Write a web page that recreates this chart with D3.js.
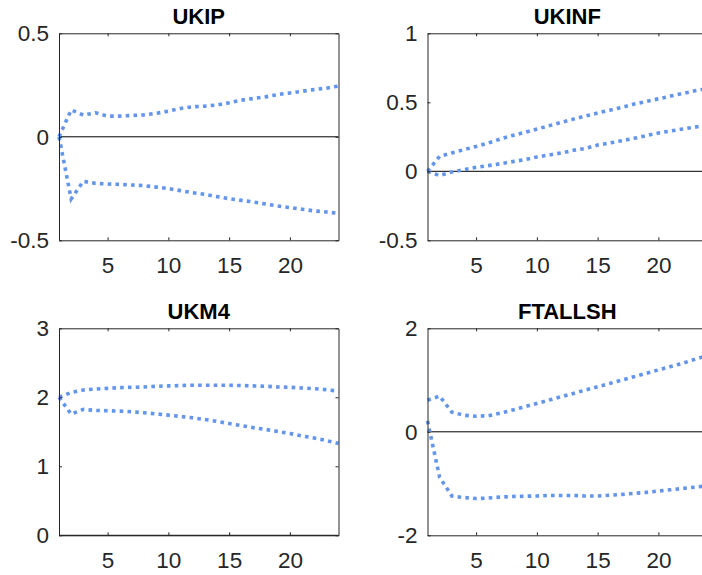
<!DOCTYPE html>
<html>
<head>
<meta charset="utf-8">
<script src="https://cdn.jsdelivr.net/npm/d3@7"></script>
<style>
  body { margin: 0; background: #fff; }
  svg { font-family: Arial, "Liberation Sans", sans-serif; display: block; }
</style>
</head>
<body>
<svg id="canvas" width="702" height="575"></svg>
<script>
// horizons 1..24
let steps = [1, 2, 3, 4, 5, 6, 7, 8, 9, 10, 11, 12, 13, 14, 15, 16, 17, 18, 19, 20, 21, 22, 23, 24]
let xTicks = [5, 10, 15, 20]

let titles = ["UKIP", "UKINF", "UKM4", "FTALLSH"]
let yDomains = [[-0.5, 0.5], [-0.5, 1], [0, 3], [-2, 2]]
let yTicks = [[-0.5, 0, 0.5], [-0.5, 0, 0.5, 1], [0, 1, 2, 3], [-2, 0, 2]]

let ukipUpper = [0, 0.13, 0.105, 0.116, 0.10, 0.10, 0.103, 0.106, 0.113, 0.124, 0.137, 0.145,
                 0.148, 0.154, 0.164, 0.177, 0.185, 0.193, 0.204, 0.212, 0.22, 0.228, 0.235, 0.245]
let ukipLower = [0, -0.30, -0.215, -0.225, -0.228, -0.23, -0.233, -0.236, -0.243, -0.25, -0.26, -0.27,
                 -0.278, -0.289, -0.299, -0.307, -0.315, -0.325, -0.334, -0.342, -0.35, -0.358, -0.363, -0.37]

let ukinfUpper = [0, 0.108, 0.133, 0.157, 0.18, 0.205, 0.234, 0.26, 0.282, 0.306, 0.33, 0.354,
                  0.378, 0.40, 0.422, 0.443, 0.463, 0.487, 0.506, 0.525, 0.545, 0.564, 0.583, 0.60]
let ukinfLower = [0, -0.031, -0.005, 0.012, 0.029, 0.041, 0.055, 0.07, 0.084, 0.104, 0.118, 0.133,
                  0.152, 0.166, 0.19, 0.205, 0.222, 0.239, 0.258, 0.277, 0.292, 0.306, 0.32, 0.335]

let ukm4Upper = [2.0, 2.07, 2.106, 2.12, 2.13, 2.14, 2.145, 2.15, 2.16, 2.165, 2.17, 2.175,
                 2.175, 2.175, 2.175, 2.17, 2.165, 2.16, 2.15, 2.145, 2.135, 2.126, 2.11, 2.09]
let ukm4Lower = [2.0, 1.756, 1.824, 1.81, 1.805, 1.80, 1.79, 1.776, 1.76, 1.742, 1.722, 1.703,
                 1.679, 1.65, 1.62, 1.59, 1.56, 1.534, 1.505, 1.476, 1.44, 1.41, 1.374, 1.33]

let ftallshUpper = [0.61, 0.69, 0.38, 0.32, 0.30, 0.31, 0.36, 0.42, 0.484, 0.548, 0.613, 0.677,
                    0.742, 0.806, 0.87, 0.935, 1.0, 1.065, 1.13, 1.195, 1.26, 1.325, 1.40, 1.47]
let ftallshLower = [0.21, -0.88, -1.24, -1.27, -1.29, -1.28, -1.26, -1.25, -1.245, -1.24, -1.23, -1.23,
                    -1.23, -1.24, -1.24, -1.225, -1.21, -1.19, -1.17, -1.145, -1.12, -1.095, -1.07, -1.045]

let bands = [[ukipUpper, ukipLower], [ukinfUpper, ukinfLower], [ukm4Upper, ukm4Lower], [ftallshUpper, ftallshLower]]

let canvas = d3.select("#canvas")

let lefts = [59, 427.5]
let tops = [33.3, 328.3]
let w = 279.5
let h = 207

let drawPanel = (i) => {
    let left = lefts[i % 2]
    let top = tops[Math.floor(i / 2)]

    let xScale = d3.scaleLinear().domain([1, 24]).range([0, w])
    let yScale = d3.scaleLinear().domain(yDomains[i]).range([h, 0])

    let panel = canvas.append("g")
        .attr("transform", "translate(" + left + ", " + top + ")")

    // zero line
    panel.append("line")
        .attr("x1", xScale(1))
        .attr("x2", xScale(24))
        .attr("y1", yScale(0))
        .attr("y2", yScale(0))
        .attr("stroke", "#000")
        .attr("stroke-width", 1)

    let line = d3.line()
        .x((d, j) => xScale(steps[j]))
        .y((d) => yScale(d))

    bands[i].forEach((series) => {
        panel.append("path")
            .attr("d", line(series))
            .attr("fill", "none")
            .attr("stroke", "#6495ED")
            .attr("stroke-width", 3.6)
            .attr("stroke-dasharray", "3.6 4.2")
    })

    // axes, ticks pointing inward on all four sides
    panel.append("g")
        .attr("transform", "translate(0, " + h + ")")
        .call(d3.axisBottom(xScale).tickValues(xTicks).tickSizeInner(-3).tickSizeOuter(0).tickPadding(17)
            .tickFormat((d) => String(d)))
    panel.append("g")
        .call(d3.axisTop(xScale).tickValues(xTicks).tickSizeInner(-3).tickSizeOuter(0).tickFormat(""))
    panel.append("g")
        .call(d3.axisLeft(yScale).tickValues(yTicks[i]).tickSizeInner(-3).tickSizeOuter(0).tickPadding(10)
            .tickFormat((d) => String(d)))
    panel.append("g")
        .attr("transform", "translate(" + w + ", 0)")
        .call(d3.axisRight(yScale).tickValues(yTicks[i]).tickSizeInner(-3).tickSizeOuter(0).tickFormat(""))

    panel.selectAll(".domain, .tick line")
        .attr("stroke", "#262626")
    panel.selectAll(".tick text")
        .attr("fill", "#262626")
        .attr("font-size", "22.5px")
        .attr("font-family", "Arial, 'Liberation Sans', sans-serif")

    panel.append("text")
        .attr("x", w / 2)
        .attr("y", -9)
        .attr("text-anchor", "middle")
        .attr("font-size", "22px")
        .attr("font-weight", "bold")
        .attr("fill", "#000")
        .text(titles[i])
}

titles.forEach((t, i) => drawPanel(i))
</script>
</body>
</html>
